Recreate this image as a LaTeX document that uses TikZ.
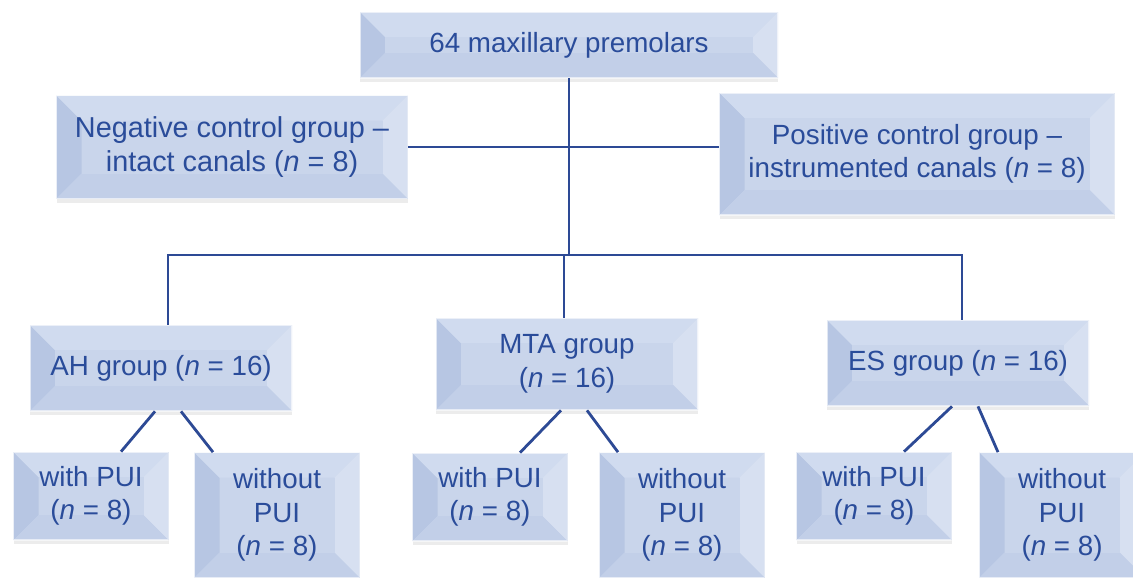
\documentclass[tikz,border=0pt]{standalone}
\usepackage{fontspec}
\setmainfont{Liberation Sans}
\usepackage{xcolor}
\usepackage{tikz}
\usetikzlibrary{shadows}
\definecolor{premtext}{HTML}{2A4C9A}
\definecolor{premline}{HTML}{2D4A95}
\definecolor{premface}{HTML}{C9D5EB}
\definecolor{premleft}{HTML}{B7C6E3}
\definecolor{premtop}{HTML}{D0DBEF}
\definecolor{premright}{HTML}{D7E0F1}
\definecolor{prembottom}{HTML}{C2CFE8}

\begin{document}
\begin{tikzpicture}[
  font=\fontsize{15.8}{19}\selectfont, text=premtext,
  bev/.style={inner sep=0pt,align=center,fill=premface,
    drop shadow={opacity=0.15,shadow xshift=0pt,shadow yshift=-2.5pt},
    path picture={
      \coordinate (sw) at (path picture bounding box.south west);
      \coordinate (ne) at (path picture bounding box.north east);
      \coordinate (isw) at ([shift={(0.5cm,0.5cm)}]sw);
      \coordinate (ine) at ([shift={(-0.5cm,-0.5cm)}]ne);
      \fill[premleft] (sw) -- (isw) -- (isw |- ine) -- (sw |- ne) -- cycle;
      \fill[premtop] (sw |- ne) -- (isw |- ine) -- (ine) -- (ne) -- cycle;
      \fill[premright] (ne) -- (ine) -- (ine |- isw) -- (ne |- sw) -- cycle;
      \fill[prembottom] (ne |- sw) -- (ine |- isw) -- (isw) -- (sw) -- cycle;
      \fill[premface] (isw) rectangle (ine);
      \draw[white,opacity=0.6,line width=0.6pt] (sw) rectangle (ne);
    }},
  group/.style={bev,minimum width=5.24cm,minimum height=1.72cm},
  sub/.style={bev,minimum width=3.1cm,minimum height=1.76cm},
  subwo/.style={bev,minimum width=3.3cm,minimum height=2.5cm},
  link/.style={premline,line width=1.6pt}]
\useasboundingbox (0,0) rectangle (22.66,-11.54);
\node[bev,minimum width=8.36cm,minimum height=1.32cm] (top) at (11.38,-0.9) {64 maxillary premolars};
\node[bev,minimum width=7.02cm,minimum height=2.06cm,font=\fontsize{16.4}{19}\selectfont] (neg) at (4.64,-2.94) {Negative control group –\\intact canals (\textit{n} = 8)};
\node[bev,minimum width=7.9cm,minimum height=2.44cm] (pos) at (18.34,-3.08) {Positive control group –\\instrumented canals (\textit{n} = 8)};
\node[group] (ah) at (3.22,-7.36) {AH group (\textit{n} = 16)};
\node[group,minimum height=1.84cm] (mta) at (11.34,-7.28) {MTA group\\(\textit{n} = 16)};
\node[group] (es) at (19.16,-7.26) {ES group (\textit{n} = 16)};
\node[sub] (ahw) at (1.82,-9.92) {with PUI\\(\textit{n} = 8)};
\node[subwo] (ahwo) at (5.54,-10.3) {without\\PUI\\(\textit{n} = 8)};
\node[sub] (mtaw) at (9.8,-9.94) {with PUI\\(\textit{n} = 8)};
\node[subwo] (mtawo) at (13.64,-10.3) {without\\PUI\\(\textit{n} = 8)};
\node[sub] (esw) at (17.48,-9.92) {with PUI\\(\textit{n} = 8)};
\node[subwo] (eswo) at (21.24,-10.3) {without\\PUI\\(\textit{n} = 8)};
% tree
\coordinate (bus) at (0,-5.1);
\draw[link] (top.south) -- (top.south |- bus);
\draw[link] (neg.east) -- (neg.east -| pos.west);
\draw[link] ([xshift=0.14cm]ah.north) -- ([xshift=0.14cm]ah.north |- bus) -| ([xshift=0.08cm]es.north);
\draw[link] ([xshift=-0.06cm]mta.north) -- ([xshift=-0.06cm]mta.north |- bus);
\foreach \g in {ah,mta,es}{
  \draw[link] ([xshift=-0.12cm]\g.south) -- ([xshift=0.6cm]\g w.north);
  \draw[link] ([xshift=0.4cm]\g.south) -- ([xshift=-1.28cm]\g wo.north);
}
\end{tikzpicture}
\end{document}
